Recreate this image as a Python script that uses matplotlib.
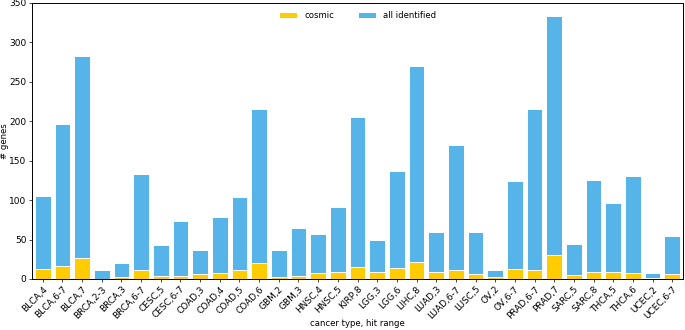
import matplotlib
matplotlib.use("Agg")
import matplotlib.pyplot as plt
import numpy as np

categories = ["BLCA,4", "BLCA,6-7", "BLCA,7", "BRCA,2-3", "BRCA,3", "BRCA,6-7",
              "CESC,5", "CESC,6-7", "COAD,3", "COAD,4", "COAD,5", "COAD,6",
              "GBM,2", "GBM,3", "HNSC,4", "HNSC,5", "KIRP,8", "LGG,3", "LGG,6",
              "LIHC,8", "LUAD,3", "LUAD,6-7", "LUSC,5", "OV,2", "OV,6-7",
              "PRAD,6-7", "PRAD,7", "SARC,5", "SARC,8", "THCA,5", "THCA,6",
              "UCEC,2", "UCEC,6-7"]
all_identified = [105, 197, 283, 12, 20, 133, 43, 73, 37, 78, 104, 215,
                  37, 65, 57, 91, 205, 50, 137, 270, 59, 170, 60, 11, 124,
                  215, 334, 44, 126, 97, 130, 7, 55]
cosmic = [13, 17, 27, 0, 2, 11, 4, 4, 6, 8, 12, 20,
          2, 4, 8, 9, 15, 9, 14, 22, 9, 12, 6, 2, 13,
          12, 30, 5, 9, 9, 8, 1, 6]

fs = 6.1
tfs = 6.5
plt.rcParams["axes.linewidth"] = 0.7
plt.rcParams["xtick.major.width"] = 0.5
plt.rcParams["ytick.major.width"] = 0.5
plt.rcParams["xtick.major.size"] = 2.0
plt.rcParams["ytick.major.size"] = 2.0
plt.rcParams["xtick.major.pad"] = 2.0
plt.rcParams["ytick.major.pad"] = 2.0

fig = plt.figure(figsize=(6.85, 3.3), dpi=100)
ax = fig.add_axes([32/685, 1-279/330, (683-32)/685, (279-3)/330])

x = np.arange(len(categories))
blue = "#56B4E9"
yellow = "#FFCC00"
ax.bar(x, all_identified, width=0.8, color=blue, edgecolor="white", linewidth=0.7, label="all identified")
ax.bar(x, cosmic, width=0.8, color=yellow, edgecolor="white", linewidth=0.7, label="cosmic")

ax.set_xlim(-0.55, len(categories) - 0.45)
ax.set_ylim(0, 350)
ax.set_yticks(range(0, 351, 50))
ax.set_xticks(x)
ax.set_xticklabels(categories, rotation=45, ha="right", rotation_mode="anchor", fontsize=tfs)
ax.tick_params(axis="y", labelsize=tfs)
ax.set_ylabel("# genes", fontsize=fs)
ax.yaxis.set_label_coords(-(32-9)/651, 0.5)
ax.set_xlabel("cancer type, hit range", fontsize=fs)
ax.xaxis.set_label_coords(0.5, -(319-279)/276)

handles, labels = ax.get_legend_handles_labels()
ax.legend(handles[::-1], labels[::-1], loc="upper center", ncol=2, frameon=False,
          fontsize=fs, bbox_to_anchor=(0.5, 1.0), columnspacing=2.8, handlelength=2.2)

fig.savefig("out.png", dpi=100)
